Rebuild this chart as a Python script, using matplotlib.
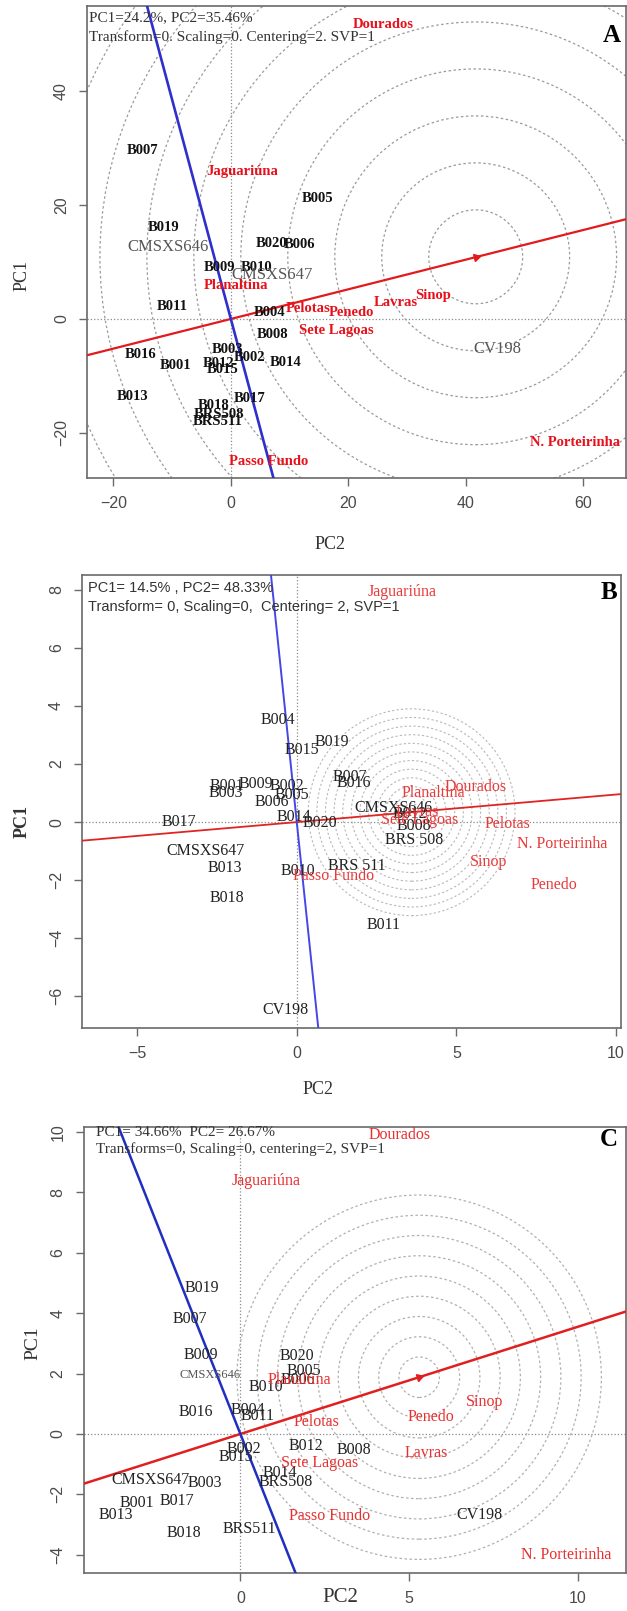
import math
import matplotlib.pyplot as plt
from matplotlib.patches import Ellipse

W, H = 627, 1611
SERIF = ["Liberation Serif", "DejaVu Serif"]
SANS = ["Liberation Sans", "DejaVu Sans"]

# ---------------- Panel A ----------------
a_gen = ["B007", "B005", "B019", "CMSXS646", "B020", "B006", "B009", "B010",
         "CMSXS647", "B011", "B004", "B008", "CV198", "B016", "B001", "B003",
         "B002", "B012", "B015", "B014", "B013", "B017", "B018", "BRS508", "BRS511"]
a_gx = [-15.1, 14.8, -11.4, -10.7, 7.0, 11.7, -1.9, 4.3,
        7.0, -10.0, 6.6, 7.1, 45.4, -15.3, -9.5, -0.5,
        3.2, -2.0, -1.4, 9.4, -16.7, 3.2, -2.9, -2.0, -2.2]
a_gy = [29.6, 21.2, 16.0, 12.6, 13.3, 13.0, 9.1, 9.1,
        7.7, 2.2, 1.2, -2.8, -5.3, -6.3, -8.2, -5.4,
        -6.8, -7.9, -8.8, -7.7, -13.6, -14.0, -15.2, -16.8, -18.0]
a_env = ["Dourados", "Jaguariúna", "Planaltina", "Pelotas", "Penedo", "Lavras",
         "Sinop", "Sete Lagoas", "Passo Fundo", "N. Porteirinha"]
a_ex = [26.0, 1.9, 0.9, 13.1, 20.6, 28.1, 34.5, 17.9, 6.5, 58.7]
a_ey = [51.6, 25.8, 5.8, 1.8, 1.2, 2.9, 4.2, -2.1, -25.0, -21.7]
a_slope = 0.26
a_ideal = (41.7, 10.9)
a_xticks = [-20, 0, 20, 40, 60]
a_yticks = [-20, 0, 20, 40]

# ---------------- Panel B ----------------
b_gen = ["B004", "B019", "B015", "B007", "B016", "B001", "B003", "B009", "B002",
         "B005", "B006", "CMSXS646", "B017", "B014", "B020", "B012", "B008",
         "BRS 508", "CMSXS647", "BRS 511", "B013", "B010", "B018", "B011", "CV198"]
b_gx = [-0.60, 1.10, 0.16, 1.66, 1.79, -2.19, -2.23, -1.29, -0.31,
        -0.16, -0.78, 3.04, -3.70, -0.09, 0.72, 3.54, 3.67,
        3.67, -2.85, 1.88, -2.26, 0.03, -2.19, 2.73, -0.34]
b_gy = [3.52, 2.75, 2.49, 1.55, 1.34, 1.23, 1.00, 1.32, 1.25,
        0.94, 0.71, 0.48, 0.0, 0.19, -0.03, 0.29, -0.15,
        -0.61, -1.01, -1.50, -1.58, -1.70, -2.62, -3.54, -6.46]
b_env = ["Jaguariúna", "Planaltina", "Dourados", "Lavras", "Sete Lagoas", "Pelotas",
         "N. Porteirinha", "Sinop", "Passo Fundo", "Penedo"]
b_ex = [3.29, 4.29, 5.61, 3.79, 3.86, 6.61, 8.31, 6.02, 1.16, 8.06]
b_ey = [7.94, 1.00, 1.20, 0.35, 0.08, -0.06, -0.76, -1.36, -1.84, -2.16]
b_slope = 0.095
b_ideal = (3.6, 0.34)
b_xticks = [-5, 0, 5, 10]
b_yticks = [-6, -4, -2, 0, 2, 4, 6, 8]

# ---------------- Panel C ----------------
c_gen = ["B019", "B007", "B009", "B020", "B005", "CMSXS646", "B006", "B010",
         "B016", "B004", "B011", "B002", "B012", "B008", "B015", "B014",
         "BRS508", "CMSXS647", "B003", "B001", "B017", "B013", "CV198",
         "B018", "BRS511"]
c_gx = [-1.15, -1.50, -1.18, 1.68, 1.87, -0.91, 1.69, 0.75,
        -1.33, 0.21, 0.51, 0.09, 1.93, 3.37, -0.14, 1.16,
        1.34, -2.66, -1.06, -3.07, -1.89, -3.69, 7.08,
        -1.68, 0.27]
c_gy = [4.82, 3.80, 2.60, 2.58, 2.10, 1.95, 1.79, 1.57,
        0.74, 0.79, 0.60, -0.51, -0.40, -0.53, -0.77, -1.30,
        -1.58, -1.52, -1.61, -2.29, -2.21, -2.68, -2.68,
        -3.27, -3.16]
c_env = ["Dourados", "Jaguariúna", "Planaltina", "Pelotas", "Sinop", "Penedo",
         "Lavras", "Sete Lagoas", "Passo Fundo", "N. Porteirinha"]
c_ex = [4.71, 0.75, 1.75, 2.25, 7.25, 5.66, 5.51, 2.34, 2.64, 9.65]
c_ey = [9.90, 8.38, 1.79, 0.41, 1.07, 0.55, -0.64, -0.97, -2.72, -4.01]
c_slope = 0.355
c_ideal = (5.30, 1.88)
c_xticks = [0, 5, 10]
c_yticks = [-4, -2, 0, 2, 4, 6, 8, 10]


fig = plt.figure(figsize=(W / 100, H / 100), dpi=100)


def fx(x):
    return x / W


def fy(y):
    return 1 - y / H


def make_axes(box, xlim, ylim, xticks, yticks):
    l, t, r, b = box
    ax = fig.add_axes([fx(l), fy(b), (r - l) / W, (b - t) / H])
    ax.set_xlim(*xlim)
    ax.set_ylim(*ylim)
    ax.set_xticks(xticks)
    ax.set_yticks(yticks)
    for s in ax.spines.values():
        s.set_color("#6a6a6a")
        s.set_linewidth(1.2)
    ax.tick_params(direction="out", length=6, width=1, color="#6a6a6a",
                   labelsize=11.5, labelcolor="#4a4a4a", pad=7)
    for lab in ax.get_xticklabels() + ax.get_yticklabels():
        lab.set_family(SANS)
    plt.setp(ax.get_yticklabels(), rotation=90, va="center")
    ax.axhline(0, color="#8a8a8a", ls=":", lw=0.9, zorder=1)
    ax.axvline(0, color="#8a8a8a", ls=":", lw=0.9, zorder=1)
    xpu = (r - l) / (xlim[1] - xlim[0])
    ypu = (b - t) / (ylim[1] - ylim[0])
    return ax, xpu, ypu


def rings(ax, center, step, n, xpu, ypu, color="#9a9a9a", lw=0.9):
    # concentric rings, round on screen
    for k in range(1, n + 1):
        rad = step * k
        e = Ellipse(center, 2 * rad, 2 * rad * xpu / ypu, fill=False,
                    ec=color, ls=(0, (2, 2)), lw=lw, zorder=1)
        ax.add_patch(e)


def axes_lines(ax, slope, red, blue, lw_r, lw_b, ideal=None, xpu=1, ypu=1):
    ax.axline((0, 0), slope=slope, color=red, lw=lw_r, zorder=3)
    ax.axline((0, 0), (-slope, 1), color=blue, lw=lw_b, zorder=3)
    if ideal is not None:
        ang = math.degrees(math.atan(slope * ypu / xpu))
        ax.plot([ideal[0]], [ideal[1]], marker=(3, 0, ang - 90), ms=6,
                color=red, zorder=4)


# ---------- A ----------
boxA = (87, 6, 626, 478)
axA, xa, ya = make_axes(boxA, (-24.5, 67.3), (-27.9, 54.9), a_xticks, a_yticks)
rings(axA, a_ideal, 8.0, 11, xa, ya)
axes_lines(axA, a_slope, "#e31a1c", "#2f2fcc", 1.6, 1.9, a_ideal, xa, ya)
gray_a = {"CMSXS646", "CMSXS647", "CV198"}
for g, x, y in zip(a_gen, a_gx, a_gy):
    if g in gray_a:
        axA.text(x, y, g, ha="center", va="center", family=SERIF, fontsize=12,
                 color="#555555", zorder=5)
    else:
        axA.text(x, y, g, ha="center", va="center", family=SERIF, fontsize=10.5,
                 fontweight="bold", color="#111111", zorder=5)
for e, x, y in zip(a_env, a_ex, a_ey):
    axA.text(x, y, e, ha="center", va="center", family=SERIF, fontsize=10.5,
             fontweight="bold", color="#e8101a", zorder=5)
fig.text(fx(89), fy(18), "PC1=24.2%, PC2=35.46%", family=SERIF, fontsize=11,
         color="#333333", va="center")
fig.text(fx(89), fy(37), "Transform=0. Scaling=0. Centering=2. SVP=1", family=SERIF,
         fontsize=11, color="#333333", va="center")
fig.text(fx(612), fy(35), "A", family=SERIF, fontsize=18, fontweight="bold",
         ha="center", va="center")
fig.text(fx(330), fy(545), "PC2", family=SERIF, fontsize=13, color="#333333",
         ha="center", va="center")
fig.text(fx(22), fy(275), "PC1", family=SERIF, fontsize=13, color="#333333",
         ha="center", va="center", rotation=90)

# ---------- B ----------
boxB = (82, 575, 621, 1028)
axB, xb, yb = make_axes(boxB, (-6.73, 10.16), (-7.09, 8.51), b_xticks, b_yticks)
rings(axB, b_ideal, 0.27, 12, xb, yb, color="#b8b8b8", lw=0.8)
axes_lines(axB, b_slope, "#e02424", "#4646e6", 1.3, 1.4)
for g, x, y in zip(b_gen, b_gx, b_gy):
    axB.text(x, y, g, ha="center", va="center", family=SERIF, fontsize=11.5,
             color="#222222", zorder=5)
for e, x, y in zip(b_env, b_ex, b_ey):
    axB.text(x, y, e, ha="center", va="center", family=SERIF, fontsize=11.5,
             color="#e83a3a", zorder=5)
fig.text(fx(88), fy(588), "PC1= 14.5% , PC2= 48.33%", family=SANS, fontsize=10.5,
         color="#333333", va="center")
fig.text(fx(88), fy(607), "Transform= 0, Scaling=0,  Centering= 2, SVP=1", family=SANS,
         fontsize=10.5, color="#333333", va="center")
fig.text(fx(609), fy(592), "B", family=SERIF, fontsize=18, fontweight="bold",
         ha="center", va="center")
fig.text(fx(318), fy(1090), "PC2", family=SERIF, fontsize=13, color="#333333",
         ha="center", va="center")
fig.text(fx(22), fy(822), "PC1", family=SERIF, fontsize=13, fontweight="bold",
         color="#333333", ha="center", va="center", rotation=90)

# ---------- C ----------
boxC = (83.5, 1127, 626, 1572.5)
axC, xc, yc = make_axes(boxC, (-4.65, 11.43), (-4.59, 10.17), c_xticks, c_yticks)
rings(axC, c_ideal, 0.6, 9, xc, yc, color="#b0b0b0", lw=0.9)
axes_lines(axC, c_slope, "#e02020", "#1f2fc0", 1.8, 1.8, c_ideal, xc, yc)
for g, x, y in zip(c_gen, c_gx, c_gy):
    if g == "CMSXS646":
        axC.text(x, y, g, ha="center", va="center", family=SERIF, fontsize=9,
                 color="#555555", zorder=5)
    else:
        axC.text(x, y, g, ha="center", va="center", family=SERIF, fontsize=11.5,
                 color="#222222", zorder=5)
for e, x, y in zip(c_env, c_ex, c_ey):
    axC.text(x, y, e, ha="center", va="center", family=SERIF, fontsize=11.5,
             color="#e83030", zorder=5)
fig.text(fx(96), fy(1133), "PC1= 34.66%  PC2= 26.67%", family=SERIF, fontsize=11,
         color="#333333", va="center")
fig.text(fx(96), fy(1149), "Transforms=0, Scaling=0, centering=2, SVP=1", family=SERIF,
         fontsize=11, color="#333333", va="center")
fig.text(fx(609), fy(1140), "C", family=SERIF, fontsize=18, fontweight="bold",
         ha="center", va="center")
fig.text(fx(340), fy(1598), "PC2", family=SERIF, fontsize=15, color="#333333",
         ha="center", va="center")
fig.text(fx(33), fy(1343), "PC1", family=SERIF, fontsize=14, color="#333333",
         ha="center", va="center", rotation=90)

plt.savefig("out.png", dpi=100)
